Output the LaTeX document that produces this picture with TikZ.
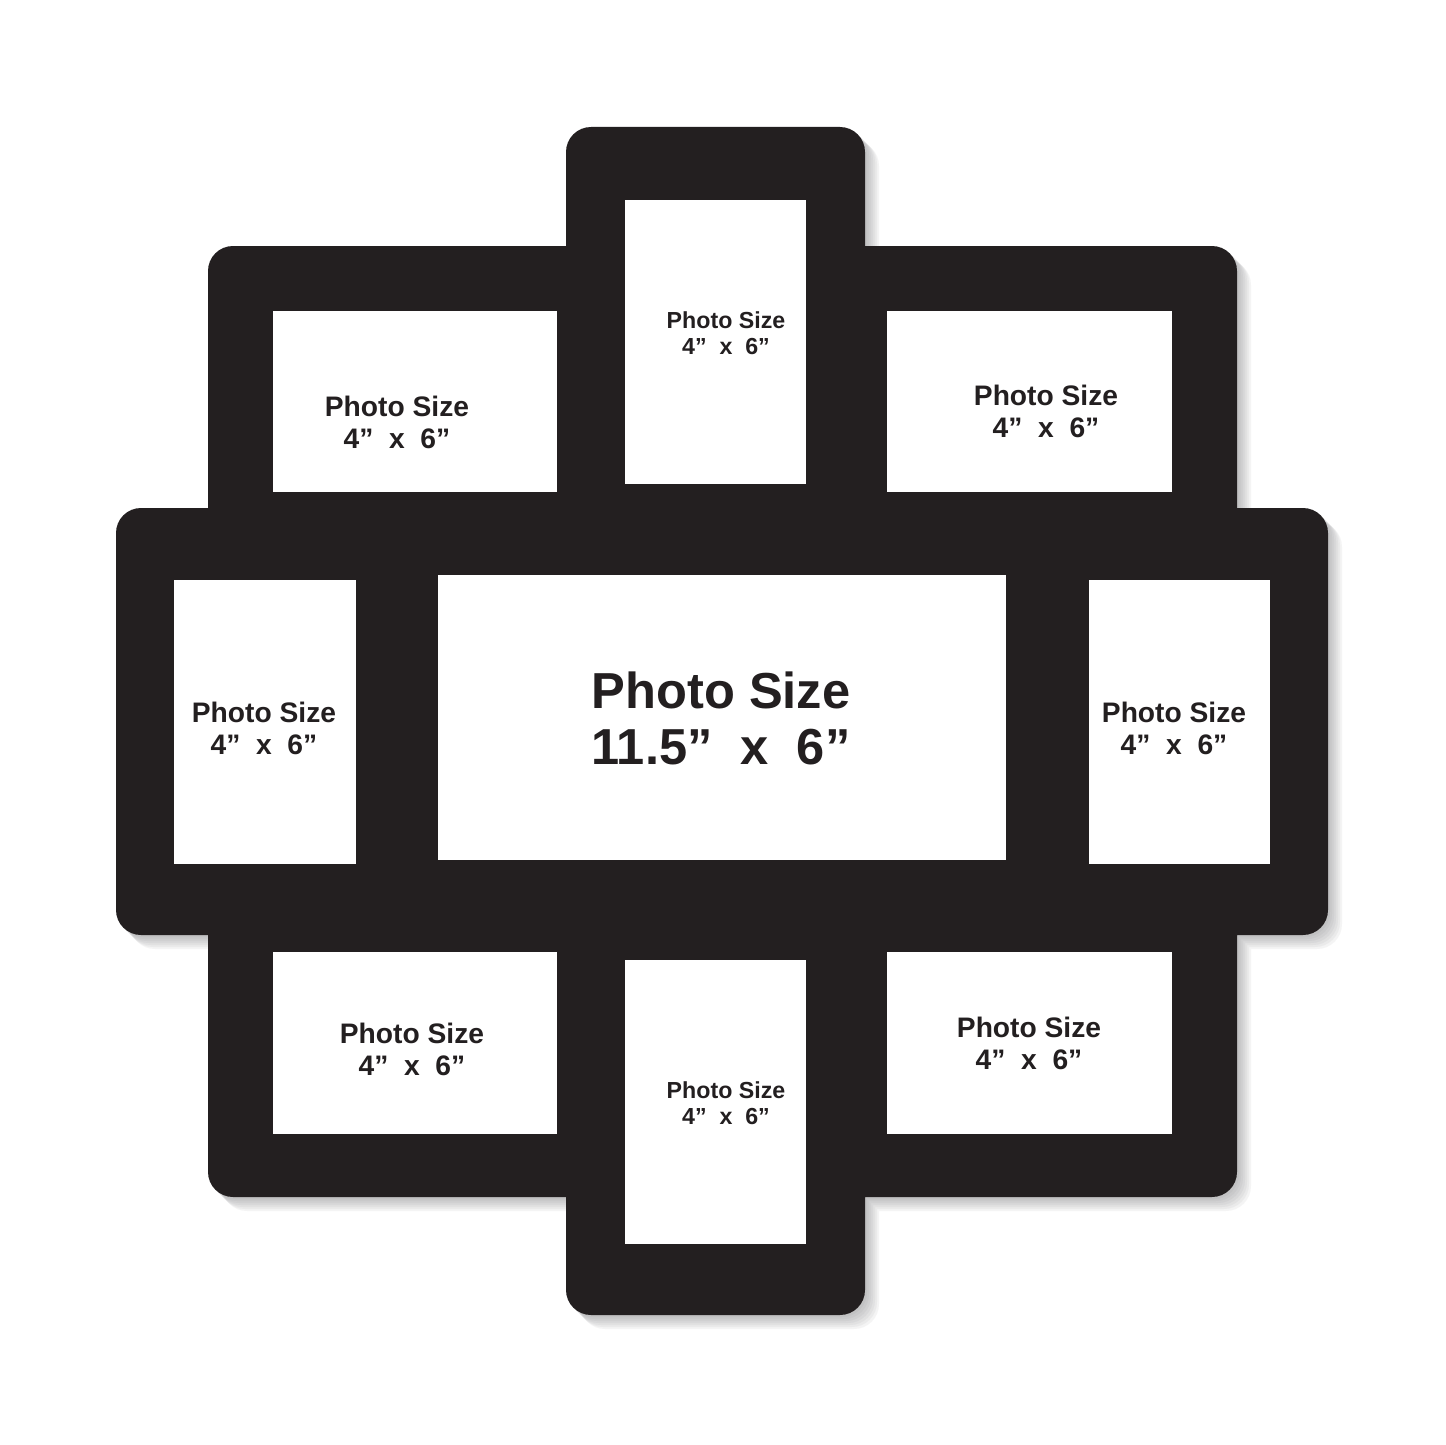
\documentclass[tikz,border=0pt]{standalone}
\usepackage{fontspec}
\setmainfont{Liberation Sans}
\definecolor{framecol}{RGB}{35,31,32}
\definecolor{shadowcol}{RGB}{120,120,125}
\newcommand\frameshapepath{(566,127) rectangle (865,600) (208,246) rectangle (1237,600) (116,508) rectangle (1328,935) (208,800) rectangle (1237,1197) (566,900) rectangle (865,1315)}
\tikzset{
  opening/.style={fill=white},
  lblsmall/.style={align=center, text=framecol, font=\fontsize{14.1}{16}\selectfont\bfseries},
  lbltiny/.style={align=center, text=framecol, font=\fontsize{11.6}{13}\selectfont\bfseries},
  lblbig/.style={align=center, text=framecol, font=\fontsize{25.3}{28}\selectfont\bfseries},
}
\begin{document}
\begin{tikzpicture}[x=0.5pt,y=-0.5pt]
\useasboundingbox (0,0) rectangle (1445,1445);
\fill[white] (0,0) rectangle (1445,1445);
% soft shadow
\foreach \k in {2,4,6,8,10,12,14}{
  \fill[shadowcol, opacity=0.08, rounded corners=12.5pt, shift={(\k,\k)}] \frameshapepath;
}
% frame
\fill[framecol, rounded corners=12.5pt] \frameshapepath;
% openings
\fill[opening] (273,311) rectangle (557,492);
\fill[opening] (625,200) rectangle (806,484);
\fill[opening] (887,311) rectangle (1172,492);
\fill[opening] (174,580) rectangle (356,864);
\fill[opening] (438,575) rectangle (1006,860);
\fill[opening] (1089,580) rectangle (1270,864);
\fill[opening] (273,952) rectangle (557,1134);
\fill[opening] (625,960) rectangle (806,1244);
\fill[opening] (887,952) rectangle (1172,1134);
% labels
\node[lblsmall] (tUL) at (397,422) {Photo Size\\4”\ \ x\ \ 6”};
\node[lbltiny]  (tTC) at (726,333) {Photo Size\\4”\ \ x\ \ 6”};
\node[lblsmall] (tUR) at (1046,411) {Photo Size\\4”\ \ x\ \ 6”};
\node[lblsmall] (tL)  at (264,728) {Photo Size\\4”\ \ x\ \ 6”};
\node[lblbig]   (tC)  at (721,718) {Photo Size\\11.5”\ \ x\ \ 6”};
\node[lblsmall] (tR)  at (1174,728) {Photo Size\\4”\ \ x\ \ 6”};
\node[lblsmall] (tLL) at (412,1049) {Photo Size\\4”\ \ x\ \ 6”};
\node[lbltiny]  (tBC) at (726,1103) {Photo Size\\4”\ \ x\ \ 6”};
\node[lblsmall] (tLR) at (1029,1043) {Photo Size\\4”\ \ x\ \ 6”};
\end{tikzpicture}
\end{document}
